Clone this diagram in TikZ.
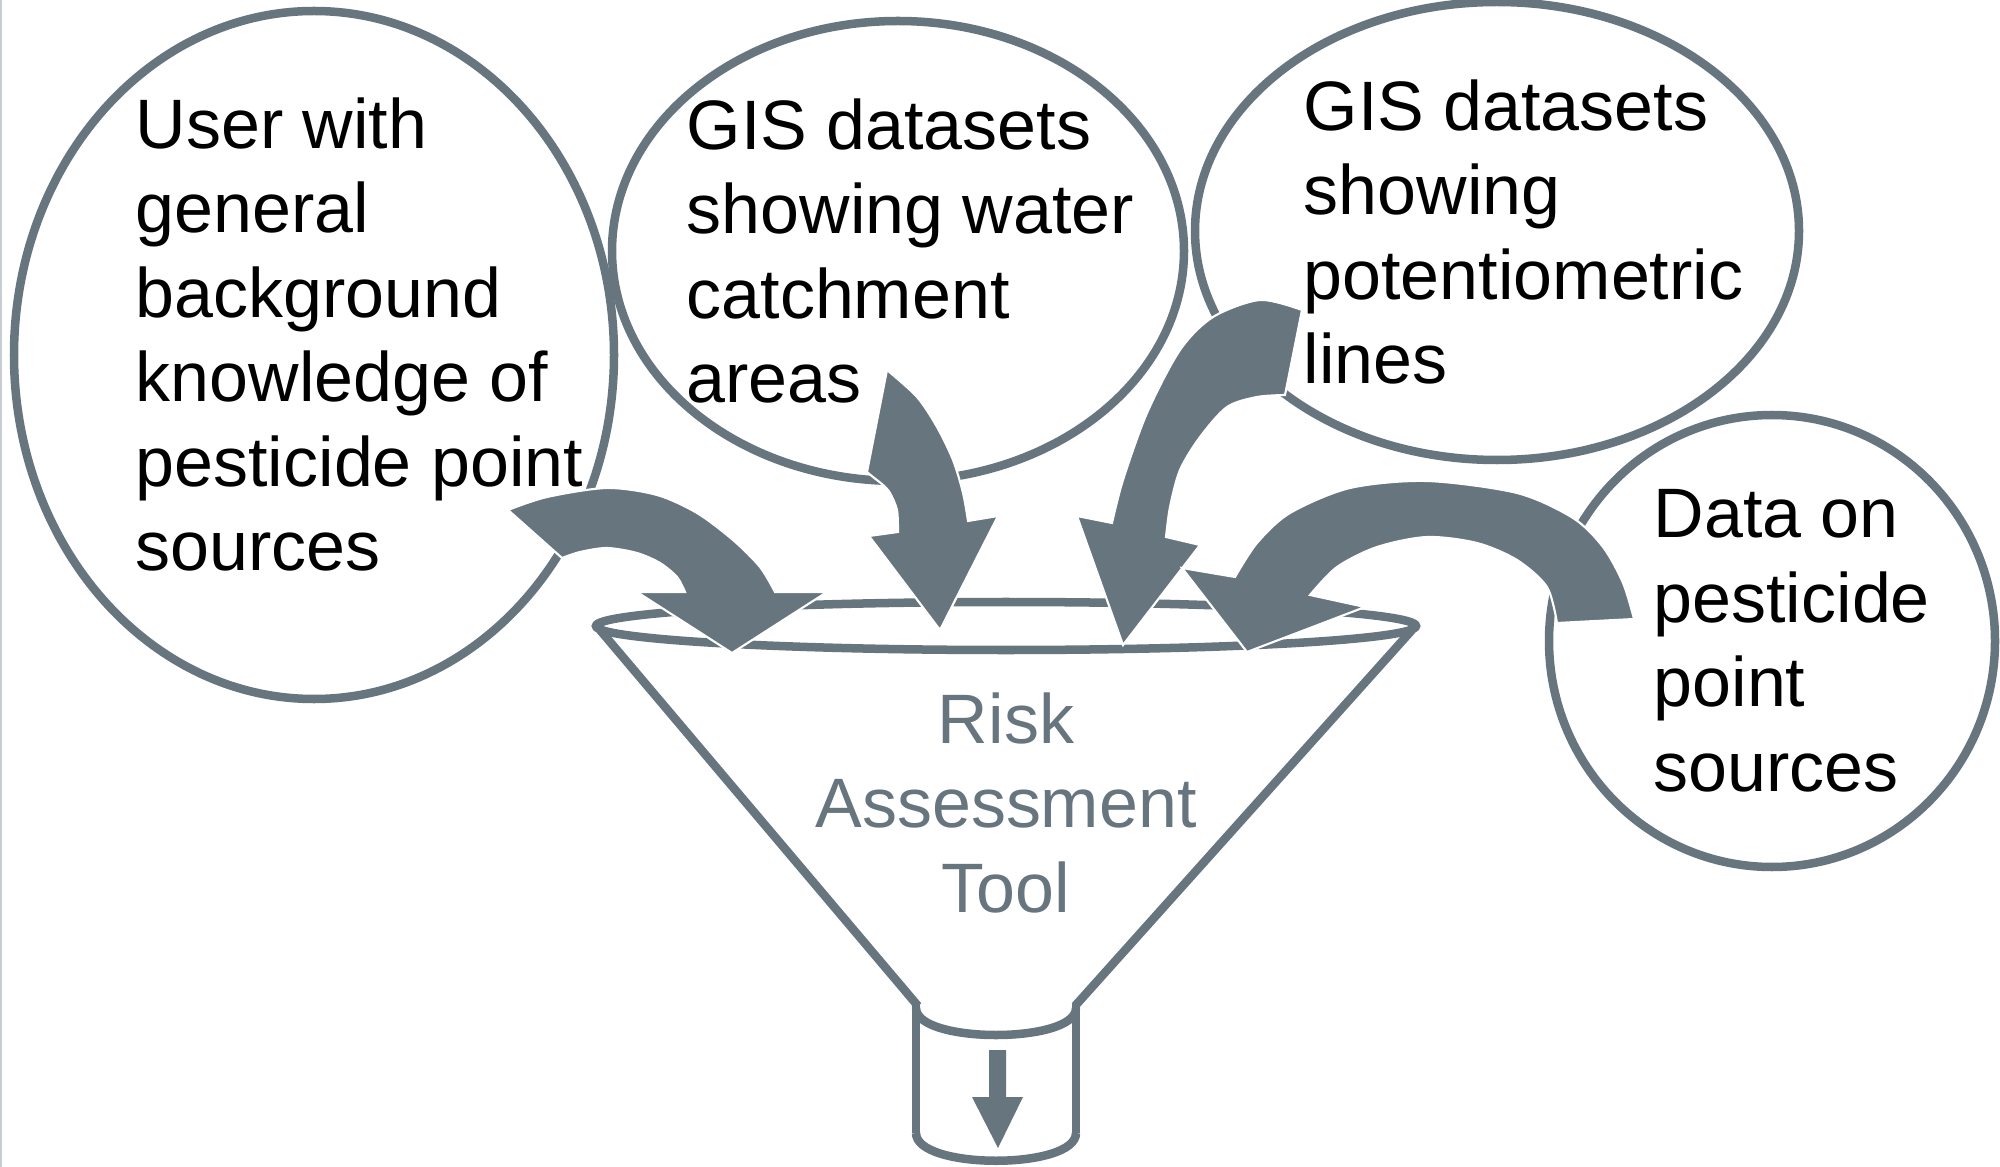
\documentclass[tikz,border=0pt]{standalone}
\usepackage{fontspec}
\setmainfont{Liberation Sans}
\definecolor{slate}{RGB}{103,117,127}
\definecolor{edgegrey}{RGB}{200,205,212}
\begin{document}
\begin{tikzpicture}[x=0.01cm,y=-0.01cm,
  outl/.style={draw=slate,line width=0.085cm},
  bigarrow/.style={fill=slate,draw=white,line width=0.6pt,line join=miter},
  txt/.style={font=\fontsize{19.9pt}{24pt}\selectfont,align=left,inner sep=0pt,anchor=north west}]
\useasboundingbox (0,0) rectangle (2000,1167);
\fill[white] (0,0) rectangle (2000,1167);
\draw[edgegrey,line width=0.02cm] (1,0) -- (1,1167);

% source ellipses
\draw[outl] (314,355) ellipse [x radius=300, y radius=344];
\draw[outl] (898,251) ellipse [x radius=286, y radius=230];
\draw[outl] (1497,231) ellipse [x radius=302, y radius=229];
\draw[outl] (1772,641) ellipse [x radius=223, y radius=226];

% funnel
\draw[outl] (1006,626) ellipse [x radius=410, y radius=24];
\draw[outl] (600,630) -- (918,1006);
\draw[outl] (1412,630) -- (1075,1006);
\draw[outl] (916,1004) -- (916,1133);
\draw[outl] (1076,1004) -- (1076,1133);
\draw[outl] (916,1008) .. controls (916,1044) and (1076,1044) .. (1076,1008);
\draw[outl] (916,1133) .. controls (916,1170) and (1076,1170) .. (1076,1133);
\fill[slate] (989,1050) -- (1006,1050) -- (1006,1097) -- (1023,1097) -- (998,1148) -- (972,1097) -- (989,1097) -- cycle;

% texts
\node[txt] (user) at (135,97) {User with\\general\\background\\knowledge of\\pesticide point\\sources};
\node[txt] (gisw) at (686,98) {GIS datasets\\showing water\\catchment\\areas};
\node[txt] (gisp) at (1303,79) {GIS datasets\\showing\\potentiometric\\lines};
\node[txt] (data) at (1653,489) {Data on\\pesticide\\point\\sources};
\node[txt,anchor=north,align=center,text=slate] (risk) at (1006,692) {Risk\\Assessment\\Tool};

% curved arrows
\path[bigarrow] (508,510) -- plot[smooth] coordinates {(508,510) (547,497) (607,488) (657,495) (697,513) (733,540) (760,567) (775,592)}
  -- (827,592) -- (732,653) -- (637,592) -- (685,592)
  -- plot[smooth] coordinates {(685,592) (677,577) (660,563) (637,553) (607,548) (580,552) (562,558)} -- cycle;

\path[bigarrow] (887,370) -- plot[smooth] coordinates {(887,370) (917,397) (937,427) (953,460) (963,493) (968,521)}
  -- (998,516) -- (940,630) -- (869,536) -- (898,532)
  -- plot[smooth] coordinates {(898,532) (897,510) (890,493) (883,485) (873,477) (867,472)} -- cycle;

\path[bigarrow] (1302,310) -- plot[smooth] coordinates {(1302,310) (1260,300) (1213,317) (1180,350) (1147,413) (1123,480) (1112,523)}
  -- (1077,516) -- (1123,645) -- (1200,545) -- (1166,537)
  -- plot[smooth] coordinates {(1166,537) (1170,507) (1180,470) (1200,437) (1227,407) (1257,397) (1285,395)} -- cycle;

\path[bigarrow] (1634,619) -- plot[smooth] coordinates {(1634,619) (1623,583) (1603,547) (1573,518) (1517,493) (1427,481) (1350,488) (1290,513) (1257,543) (1235,577)}
  -- (1182,568) -- (1247,652) -- (1365,607) -- (1310,595)
  -- plot[smooth] coordinates {(1310,595) (1337,567) (1377,547) (1427,537) (1477,543) (1517,560) (1547,587) (1557,623)} -- cycle;
\end{tikzpicture}
\end{document}
